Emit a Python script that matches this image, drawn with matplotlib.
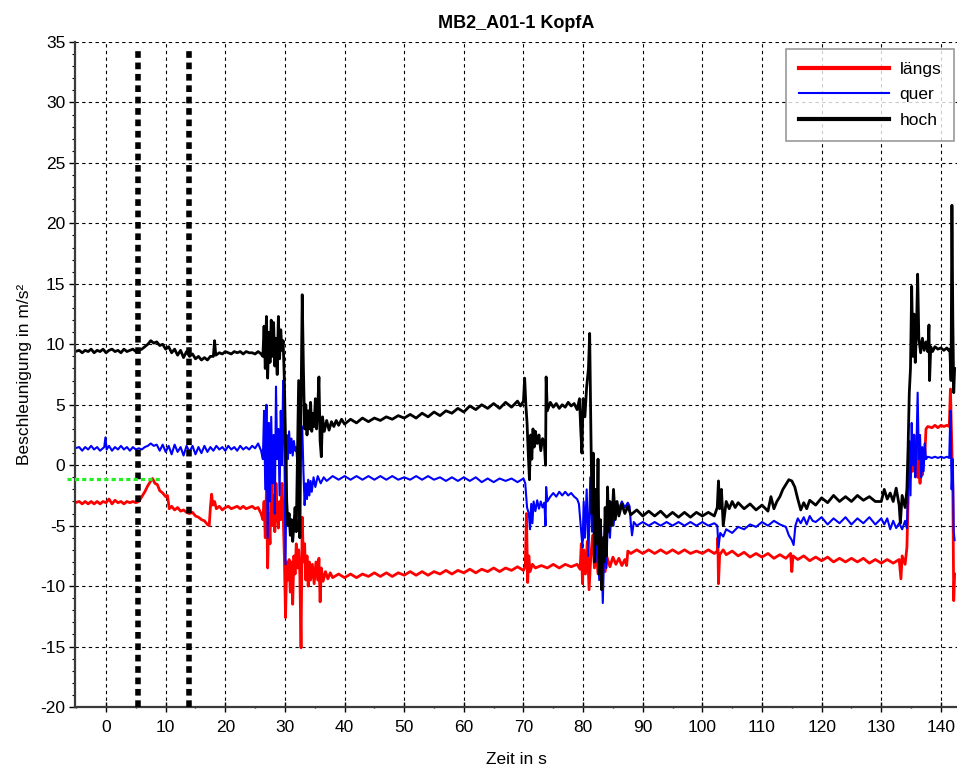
import matplotlib.pyplot as plt
import numpy as np
from matplotlib.ticker import MultipleLocator

plt.rcParams['font.family'] = ['Liberation Sans', 'DejaVu Sans']
plt.rcParams['axes.unicode_minus'] = False

title = "MB2_A01-1 KopfA"
x_label = "Zeit in s"
y_label = "Beschleunigung in m/s²"
series_names = ["längs", "quer", "hoch"]
series_colors = ["#ff0000", "#0000ff", "#000000"]

# marker lines (time in s) and reference level (m/s²)
marker_times = [5.4, 13.85]
ref_level = -1.16
ref_span = (-6.5, 9.1)

# (time, value) samples
hoch_pts = [
    (-5.2, 9.4), (-4.5, 9.5), (-4, 9.3), (-3.5, 9.5), (-3, 9.4), (-2.5, 9.6), (-2, 9.3),
    (-1.5, 9.5), (-1, 9.4), (-0.5, 9.6), (0, 9.3), (0.5, 9.5), (1, 9.6), (1.5, 9.4),
    (2, 9.5), (2.5, 9.3), (3, 9.6), (3.5, 9.4), (4, 9.5), (4.5, 9.6), (5, 9.4), (5.5, 9.5),
    (6, 9.6), (6.5, 9.8), (7, 10.0), (7.5, 10.3), (8, 10.1), (8.5, 10.2), (9, 9.9),
    (9.5, 10.0), (10, 9.6), (10.5, 9.8), (11, 9.3), (11.5, 9.6), (12, 9.1), (12.5, 9.5),
    (13, 8.9), (13.5, 9.4), (14, 9.0), (14.5, 9.2), (15, 8.8), (15.5, 9.0), (16, 8.7),
    (16.5, 8.9), (17, 8.7), (17.5, 9.0), (18, 9.0), (18.2, 10.3), (18.4, 9.1), (19, 9.3),
    (19.5, 9.2), (20, 9.4), (20.5, 9.3), (21, 9.2), (21.5, 9.4), (22, 9.3), (22.5, 9.4),
    (23, 9.2), (23.5, 9.4), (24, 9.3), (24.5, 9.3), (25, 9.2), (25.5, 9.4), (26, 9.2),
    (26.3, 9.0), (26.5, 11.5), (26.7, 8.0), (26.9, 12.3), (27.1, 7.2), (27.3, 11.0),
    (27.5, 8.5), (27.7, 12.0), (27.9, 9.0), (28.1, 11.8), (28.3, 8.2), (28.5, 10.5),
    (28.7, 7.5), (28.9, 12.3), (29.1, 8.8), (29.3, 11.2), (29.5, 9.5), (29.7, 10.3),
    (29.9, 7.0), (30.1, 2.0), (30.3, -3.0), (30.5, -5.0), (30.7, -4.0), (30.9, -5.8),
    (31.1, -4.5), (31.3, -6.3), (31.5, -5.0), (31.7, -3.5), (31.9, -5.5), (32.1, 0.5),
    (32.3, 7.0), (32.5, -6.0), (32.7, 5.0), (32.9, 14.1), (33.1, 8.0), (33.3, 3.0),
    (33.5, 5.0), (33.7, 2.5), (33.9, 4.5), (34.1, 3.0), (34.3, 5.2), (34.5, 2.8),
    (34.7, 4.3), (34.9, 3.2), (35.1, 5.5), (35.3, 3.0), (35.5, 4.8), (35.7, 7.3),
    (35.9, 2.0), (36.1, 0.7), (36.3, 4.0), (36.6, 2.8), (37, 3.7), (37.4, 2.9), (37.8, 3.6),
    (38.2, 3.2), (38.6, 3.7), (39, 3.3), (39.5, 3.8), (40, 3.4), (41, 3.8), (42, 3.5),
    (43, 3.9), (44, 3.6), (45, 3.9), (46, 3.7), (47, 4.0), (48, 3.8), (49, 4.1), (50, 3.9),
    (51, 4.2), (52, 3.9), (53, 4.3), (54, 4.0), (55, 4.4), (56, 4.1), (57, 4.5), (58, 4.3),
    (59, 4.7), (60, 4.4), (61, 4.9), (62, 4.6), (63, 5.0), (64, 4.7), (65, 5.1), (66, 4.7),
    (67, 5.2), (68, 4.8), (69, 5.3), (69.5, 4.9), (70, 5.3), (70.2, 7.2), (70.4, 5.0),
    (70.6, 3.5), (70.8, 1.0), (71.0, -1.2), (71.2, 2.5), (71.4, 0.5), (71.6, 3.0),
    (71.8, 1.5), (72.0, 2.8), (72.3, 1.8), (72.6, 2.5), (72.9, 1.2), (73.2, 2.2),
    (73.5, 1.8), (73.7, 0.0), (73.8, 7.3), (74.0, 4.5), (74.5, 5.2), (75, 4.8),
    (75.5, 5.1), (76, 4.7), (76.5, 5.0), (77, 4.8), (77.5, 5.2), (78, 4.9), (78.5, 5.1),
    (79, 4.6), (79.4, 5.5), (79.6, 3.0), (79.8, 1.0), (80.0, 5.5), (80.3, 4.0),
    (80.6, 6.5), (80.9, 8.0), (81.1, 10.9), (81.3, 3.0), (81.5, -4.0), (81.7, 1.0),
    (81.9, -8.0), (82.1, -2.0), (82.3, -6.5), (82.5, 0.5), (82.7, -9.0), (82.9, -4.5),
    (83.1, -10.3), (83.3, -6.0), (83.5, -8.0), (83.7, -3.5), (83.9, -7.5), (84.1, -1.8),
    (84.3, -5.5), (84.5, -3.0), (84.8, -5.0), (85.1, -2.0), (85.4, -4.5), (85.7, -3.0),
    (86, -4.2), (86.5, -3.2), (87, -4.0), (87.5, -3.4), (88, -4.1), (89, -3.7), (90, -4.2),
    (91, -3.8), (92, -4.2), (93, -3.8), (94, -4.3), (95, -3.9), (96, -4.3), (97, -3.9),
    (98, -4.3), (99, -3.9), (100, -4.2), (101, -3.9), (102, -4.2), (102.5, -3.5),
    (102.7, -1.3), (102.9, -3.6), (103.2, -2.0), (103.5, -5.0), (104, -3.0), (104.5, -3.6),
    (105, -3.0), (105.5, -3.5), (106, -3.1), (107, -3.6), (108, -3.2), (109, -3.7),
    (110, -3.3), (111, -3.8), (111.5, -2.6), (112, -3.6), (112.5, -3.0), (113, -2.6),
    (113.5, -2.0), (114, -1.6), (114.5, -1.2), (115, -1.3), (115.5, -1.8), (116, -2.8),
    (116.5, -3.7), (117, -3.1), (117.5, -3.6), (118, -2.9), (119, -3.3), (120, -2.7),
    (121, -3.1), (122, -2.5), (123, -3.0), (124, -2.6), (125, -3.0), (126, -2.5),
    (127, -2.9), (128, -2.6), (129, -3.0), (130, -3.0), (130.5, -2.0), (131, -2.8),
    (131.5, -2.3), (132, -3.0), (132.5, -1.9), (133, -3.3), (133.2, -4.8), (133.5, -2.5),
    (134, -3.5), (134.3, -2.0), (134.5, 1.5), (134.7, 6.0), (134.9, 8.0), (135.1, 14.8),
    (135.3, 9.0), (135.5, 12.5), (135.7, 8.5), (135.9, 11.0), (136.1, 15.8), (136.3, 10.5),
    (136.6, 9.3), (136.9, 10.5), (137.2, 9.5), (137.5, 10.2), (137.8, 9.4), (138.0, 11.6),
    (138.1, 7.0), (138.3, 9.8), (138.6, 9.4), (139, 9.8), (139.5, 9.6), (140, 9.7),
    (140.5, 9.5), (141, 9.7), (141.3, 9.5), (141.5, 9.6), (141.7, 7.0), (141.85, 21.5),
    (142.0, 12.0), (142.15, 6.0), (142.3, 8.0),
]

quer_pts = [
    (-5.2, 1.4), (-4.5, 1.5), (-4, 1.2), (-3.5, 1.5), (-3, 1.3), (-2.5, 1.6), (-2, 1.3),
    (-1.5, 1.5), (-1, 1.2), (-0.3, 1.5), (-0.1, 2.3), (0.1, 1.3), (0.5, 1.6), (1, 1.2),
    (1.5, 1.5), (2, 1.3), (2.5, 1.6), (3, 1.3), (3.5, 1.5), (4, 1.2), (4.5, 1.5), (5, 1.3),
    (5.5, 1.4), (6, 1.3), (6.5, 1.5), (7, 1.6), (7.5, 1.8), (8, 1.6), (8.5, 1.7), (9, 1.2),
    (9.5, 1.7), (10, 1.1), (10.5, 1.6), (11, 0.9), (11.5, 1.7), (12, 1.1), (12.5, 1.5),
    (13, 0.8), (13.5, 1.6), (14, 1.1), (14.5, 1.6), (15, 0.9), (15.5, 1.5), (16, 1.0),
    (16.5, 1.6), (17, 1.1), (17.5, 1.5), (18, 1.2), (18.5, 1.6), (19, 1.3), (19.5, 1.5),
    (20, 1.2), (20.5, 1.6), (21, 1.3), (21.5, 1.5), (22, 1.2), (22.5, 1.6), (23, 1.3),
    (23.5, 1.5), (24, 1.3), (24.5, 1.6), (25, 1.4), (25.5, 1.8), (26, 1.2),
    (26.3, 0.5), (26.5, 4.5), (26.7, -2.0), (26.9, 5.0), (27.1, -6.0), (27.3, 3.5),
    (27.5, -3.0), (27.7, 4.0), (27.9, -1.5), (28.1, 2.5), (28.3, -4.0), (28.5, 6.5),
    (28.7, 0.5), (28.9, 3.0), (29.1, -2.5), (29.3, 4.5), (29.5, 0.0), (29.7, 7.0),
    (29.9, 2.0), (30.1, -8.2), (30.3, 2.5), (30.5, 0.5), (30.7, 2.8), (30.9, 1.0),
    (31.1, 2.2), (31.3, 0.8), (31.5, 2.0), (31.7, 1.2), (31.9, 1.5), (32.1, 0.0),
    (32.3, 1.8), (32.6, 3.0), (32.9, 3.2), (33.1, -0.5), (33.3, -3.3), (33.5, -1.5),
    (33.7, -2.8), (33.9, -1.2), (34.1, -2.5), (34.3, -1.3), (34.5, -2.2), (34.8, -1.0),
    (35.1, -1.8), (35.5, -0.9), (36, -1.5), (36.5, -1.0), (37, -1.3), (38, -0.9),
    (39, -1.2), (40, -0.9), (41, -1.2), (42, -0.9), (43, -1.2), (44, -0.9), (45, -1.2),
    (46, -0.9), (47, -1.2), (48, -0.9), (49, -1.2), (50, -1.0), (51, -1.2), (52, -0.9),
    (53, -1.2), (54, -0.9), (55, -1.2), (56, -1.0), (57, -1.3), (58, -1.0), (59, -1.3),
    (60, -1.0), (61, -1.3), (62, -1.0), (63, -1.4), (64, -1.1), (65, -1.4), (66, -1.1),
    (67, -1.3), (68, -1.1), (69, -1.4), (70, -1.1), (70.3, -1.5), (70.6, -3.5),
    (70.9, -4.0), (71.1, -5.3), (71.3, -3.2), (71.5, -4.8), (71.7, -3.0), (72, -3.8),
    (72.3, -2.9), (72.6, -3.6), (72.9, -3.0), (73.2, -3.5), (73.5, -3.1), (73.7, -5.0),
    (73.8, -1.8), (74.0, -3.0), (74.5, -2.6), (75, -2.3), (75.5, -2.6), (76, -2.2),
    (76.5, -2.5), (77, -2.2), (77.5, -2.5), (78, -2.3), (78.5, -2.6), (79, -2.8),
    (79.3, -3.2), (79.6, -5.0), (79.9, -6.8), (80.1, -3.0), (80.3, -6.0), (80.6, -2.0),
    (80.9, -7.5), (81.2, -1.0), (81.5, -5.5), (81.8, -3.0), (82.1, -8.0), (82.4, -4.0),
    (82.7, -9.5), (83.0, -5.0), (83.3, -11.4), (83.6, -6.0), (83.9, -8.5), (84.2, -3.5),
    (84.5, -6.0), (84.8, -3.5), (85.1, -5.0), (85.5, -3.0), (86, -3.6), (86.5, -3.0),
    (87, -3.5), (87.5, -3.1), (87.8, -3.4), (88.0, -4.8), (88.2, -5.8), (88.5, -4.7),
    (89, -5.0), (90, -4.7), (91, -5.0), (92, -4.7), (93, -5.0), (94, -4.7), (95, -5.0),
    (96, -4.7), (97, -5.0), (98, -4.7), (99, -5.0), (100, -4.7), (101, -5.0), (102, -4.8),
    (102.5, -5.0), (102.7, -6.8), (103, -5.6), (103.5, -5.9), (104, -5.3), (105, -5.6),
    (106, -5.1), (107, -5.3), (108, -4.9), (109, -5.1), (110, -4.7), (111, -5.0),
    (112, -4.6), (113, -4.9), (114, -5.1), (114.5, -5.8), (115, -6.2), (115.3, -6.6),
    (115.6, -5.0), (116, -4.4), (116.5, -4.8), (117, -4.3), (117.5, -4.9), (118, -4.2),
    (118.5, -4.6), (119, -4.7), (120, -4.3), (121, -4.9), (122, -4.4), (123, -4.8),
    (124, -4.3), (125, -4.9), (126, -4.4), (127, -4.8), (128, -4.3), (129, -4.9),
    (130, -4.4), (130.5, -4.9), (131, -4.4), (131.5, -5.3), (132, -4.6), (132.5, -5.2),
    (133, -4.8), (133.5, -5.3), (134, -4.6), (134.3, -5.2), (134.5, -1.5), (134.7, 2.0),
    (134.9, -2.5), (135.1, 3.5), (135.3, 0.0), (135.5, 2.5), (135.7, -1.0), (135.9, 1.5),
    (136.1, 6.0), (136.3, 0.5), (136.5, 2.5), (136.7, -1.0), (136.9, 1.5), (137.1, -0.5),
    (137.3, 1.8), (137.5, 0.5), (137.8, 0.7), (138.5, 0.6), (139, 0.7), (139.5, 0.6),
    (140, 0.7), (140.5, 0.6), (141, 0.7), (141.4, 0.6), (141.6, 4.5), (141.8, -2.0),
    (142.0, 0.5), (142.15, -5.5), (142.3, -6.2),
]

laengs_pts = [
    (-5.2, -3.1), (-4.5, -3.0), (-4, -3.2), (-3.5, -3.0), (-3, -3.2), (-2.5, -3.0),
    (-2, -3.2), (-1.5, -3.0), (-1, -3.2), (-0.5, -3.0), (0, -3.1), (0.5, -2.8), (1, -3.2),
    (1.5, -2.9), (2, -3.1), (2.5, -3.0), (3, -3.2), (3.5, -3.0), (4, -3.1), (4.5, -3.0),
    (5, -3.1), (5.5, -3.0), (6, -2.6), (6.5, -2.2), (7, -1.7), (7.5, -1.3), (7.8, -1.1),
    (8.2, -1.5), (8.6, -1.6), (9, -2.1), (9.5, -2.3), (10, -2.6), (10.3, -2.5),
    (10.6, -3.6), (11, -3.4), (11.5, -3.7), (12, -3.5), (12.5, -3.8), (13, -3.7),
    (13.5, -3.9), (14, -4.0), (14.5, -3.9), (15, -4.2), (15.5, -4.3), (16, -4.5),
    (16.5, -4.6), (17, -4.9), (17.3, -5.0), (17.5, -3.5), (17.7, -2.4), (17.9, -3.3),
    (18.2, -3.0), (18.5, -3.6), (19, -3.4), (19.5, -3.7), (20, -3.5), (20.5, -3.4),
    (21, -3.6), (21.5, -3.5), (22, -3.4), (22.5, -3.6), (23, -3.4), (23.5, -3.6),
    (24, -3.5), (24.5, -3.4), (25, -3.6), (25.5, -3.5), (26, -4.0), (26.3, -4.5),
    (26.5, -3.0), (26.7, -6.0), (26.9, -2.0), (27.1, -8.5), (27.3, -4.0), (27.5, -6.5),
    (27.7, 0.0), (27.9, -5.0), (28.1, -2.5), (28.3, -5.5), (28.5, -1.5), (28.7, -4.0),
    (28.9, -5.2), (29.1, -3.0), (29.3, -4.5), (29.5, -1.5), (29.7, -4.0), (29.9, -7.5),
    (30.1, -12.6), (30.3, -8.0), (30.5, -9.5), (30.7, -7.8), (30.9, -10.5), (31.1, -8.0),
    (31.3, -11.5), (31.5, -7.5), (31.7, -9.0), (31.9, -6.5), (32.1, -8.5), (32.3, -7.0),
    (32.5, -9.0), (32.7, -15.1), (32.9, -4.3), (33.1, -8.0), (33.3, -6.5), (33.5, -9.5),
    (33.7, -7.5), (33.9, -10.0), (34.1, -8.0), (34.3, -9.5), (34.6, -8.2), (34.9, -9.8),
    (35.2, -8.0), (35.5, -9.5), (35.7, -7.7), (35.9, -11.3), (36.1, -8.5), (36.4, -9.6),
    (36.8, -8.8), (37.2, -9.4), (37.6, -8.9), (38, -9.3), (39, -9.0), (40, -9.3),
    (41, -9.0), (42, -9.3), (43, -9.0), (44, -9.2), (45, -8.9), (46, -9.2), (47, -8.9),
    (48, -9.2), (49, -8.9), (50, -9.1), (51, -8.8), (52, -9.1), (53, -8.8), (54, -9.1),
    (55, -8.8), (56, -9.0), (57, -8.7), (58, -9.0), (59, -8.7), (60, -8.9), (61, -8.6),
    (62, -8.9), (63, -8.6), (64, -8.8), (65, -8.5), (66, -8.8), (67, -8.5), (68, -8.7),
    (69, -8.4), (70, -8.7), (70.3, -8.4), (70.5, -4.0), (70.7, -9.7), (70.9, -7.5),
    (71.1, -8.8), (71.5, -8.2), (72, -8.5), (73, -8.3), (74, -8.5), (75, -8.2), (76, -8.5),
    (77, -8.2), (78, -8.4), (79, -8.2), (79.5, -8.6), (79.7, -6.5), (79.9, -9.8),
    (80.1, -7.0), (80.4, -9.0), (80.7, -6.3), (81.0, -10.3), (81.3, -7.5), (81.6, -5.8),
    (81.9, -8.5), (82.2, -7.0), (82.5, -9.0), (82.8, -7.5), (83.1, -8.5), (83.4, -7.2),
    (83.7, -8.8), (84.0, -7.6), (84.5, -8.4), (85, -7.6), (85.5, -8.2), (86, -7.7),
    (86.5, -8.3), (87, -7.8), (87.3, -8.3), (87.5, -7.1), (88, -7.3), (89, -7.0),
    (90, -7.3), (91, -7.0), (92, -7.3), (93, -7.0), (94, -7.3), (95, -7.0), (96, -7.3),
    (97, -7.0), (98, -7.3), (99, -7.1), (100, -7.3), (101, -7.0), (102, -7.3),
    (102.5, -7.1), (102.6, -6.0), (102.7, -9.8), (102.9, -7.4), (103.5, -7.0),
    (104, -7.4), (105, -7.1), (106, -7.5), (107, -7.2), (108, -7.6), (109, -7.3),
    (110, -7.6), (111, -7.3), (112, -7.7), (113, -7.4), (114, -7.7), (114.8, -7.3),
    (115, -8.8), (115.2, -7.5), (116, -7.8), (117, -7.5), (118, -7.9), (119, -7.6),
    (120, -7.9), (121, -7.6), (122, -8.0), (123, -7.7), (124, -8.0), (125, -7.7),
    (126, -8.0), (127, -7.7), (128, -8.1), (129, -7.8), (130, -8.1), (131, -7.8),
    (132, -8.1), (133, -7.8), (133.3, -9.4), (133.5, -7.5), (134, -8.2), (134.3, -6.8),
    (134.5, -3.0), (134.7, 0.0), (134.9, -1.0), (135.1, 1.0), (135.3, -0.5), (135.5, 2.5),
    (135.7, 0.5), (135.9, 1.5), (136.1, -1.0), (136.3, 0.8), (136.5, -1.5), (136.7, 0.5),
    (136.9, -0.8), (137.1, 1.2), (137.3, 0.8), (137.5, 3.0), (137.8, 3.2), (138.5, 3.1),
    (139, 3.3), (139.5, 3.1), (140, 3.3), (140.5, 3.2), (141, 3.3), (141.4, 3.2),
    (141.6, 6.3), (141.8, 2.0), (142.0, -2.0), (142.15, -11.2), (142.3, -9.0),
]

fig = plt.figure(figsize=(9.57, 7.67), dpi=100)
ax = fig.add_axes([0.0784, 0.0782, 0.9216, 0.867])

# grid
ax.grid(True, which='major', color='black', linestyle=(0, (3, 3)), linewidth=0.8)

line_widths = [2.0, 1.5, 2.0]
for pts, name, col, lw in zip([laengs_pts, quer_pts, hoch_pts], series_names,
                              series_colors, line_widths):
    t, v = np.array(pts).T
    ax.plot(t, v, color=col, linewidth=lw, label=name)

# dotted markers
for mt in marker_times:
    ax.plot([mt, mt], [-20, 34.6], color='black', linewidth=4.0,
            linestyle=(0, (1.2, 0.85)), dash_capstyle='butt', zorder=4)
ax.plot(list(ref_span), [ref_level, ref_level], color='#22ee22', linewidth=2.3,
        linestyle=(0, (1.3, 1.0)), clip_on=False, zorder=4)

ax.set_xlim(-5.2, 142.7)
ax.set_ylim(-20, 35)
ax.xaxis.set_major_locator(MultipleLocator(10))
ax.xaxis.set_minor_locator(MultipleLocator(5))
ax.yaxis.set_major_locator(MultipleLocator(5))
ax.yaxis.set_minor_locator(MultipleLocator(1))
ax.tick_params(axis='x', which='major', direction='inout', length=7, width=1,
               labelsize=12.5, pad=6, top=False)
ax.tick_params(axis='x', which='minor', direction='inout', length=2, width=1, top=False)
ax.tick_params(axis='y', which='major', direction='out', length=4, width=1,
               labelsize=12.5, pad=3, right=False)
ax.tick_params(axis='y', which='minor', direction='out', length=2.5, width=0.8, right=False)

for side in ['top', 'right']:
    ax.spines[side].set_visible(False)
for side in ['left', 'bottom']:
    ax.spines[side].set_color('#3a3a3a')
    ax.spines[side].set_linewidth(1.6)

ax.set_title(title, fontsize=13, fontweight='bold', pad=10)
ax.set_xlabel(x_label, fontsize=12.5, labelpad=12)
ax.set_ylabel(y_label, fontsize=12.5, labelpad=6)

leg = ax.legend(loc='upper right', fontsize=12.5, frameon=True, fancybox=False,
                edgecolor='#808080', handlelength=5.2, handletextpad=0.6,
                labelspacing=0.6, borderpad=0.75, borderaxespad=0.0,
                bbox_to_anchor=(0.997, 0.99))
leg.get_frame().set_linewidth(1.2)
for h, lw in zip(leg.get_lines(), [3, 1.5, 3]):
    h.set_linewidth(lw)

fig.savefig('out.png', dpi=100)
